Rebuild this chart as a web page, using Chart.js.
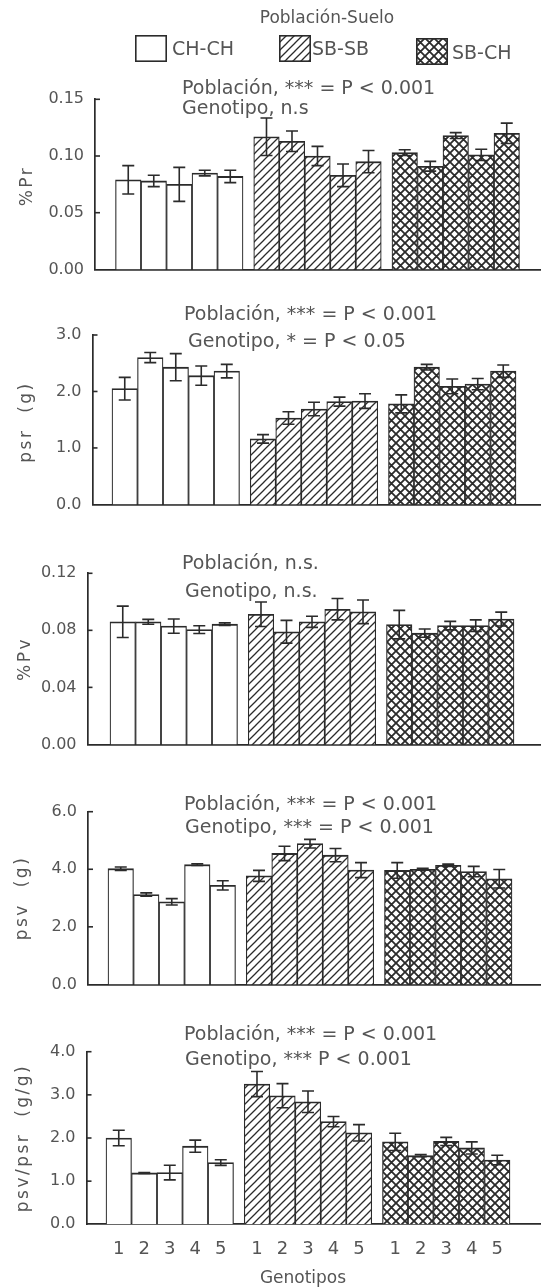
<!DOCTYPE html>
<html>
<head>
<meta charset="utf-8">
<script src="https://cdn.jsdelivr.net/npm/chart.js@4.4.1/dist/chart.umd.min.js"></script>
<style>
  html, body { margin: 0; padding: 0; background: #fff; }
  body { width: 541px; height: 1287px; position: relative; overflow: hidden; font-family: "DejaVu Sans", sans-serif; color: #555; }
  canvas.panel { position: absolute; left: 0; }
  .txt { position: absolute; white-space: pre; line-height: 22px; height: 22px; }
  .ytitle { position: absolute; white-space: pre; line-height: 22px; height: 22px; width: 300px; text-align: center; letter-spacing: 2.5px; transform: rotate(-90deg); transform-origin: 150px 11px; }
  .swatch { position: absolute; }
</style>
</head>
<body>
<canvas class="panel" id="c1" width="541" height="290" style="top:0px"></canvas>
<canvas class="panel" id="c2" width="541" height="235" style="top:290px"></canvas>
<canvas class="panel" id="c3" width="541" height="240" style="top:525px"></canvas>
<canvas class="panel" id="c4" width="541" height="240" style="top:765px"></canvas>
<canvas class="panel" id="c5" width="541" height="282" style="top:1005px"></canvas>
<div id="overlay"></div>
<script>
// ---------------- DATA ----------------
const genotipos = ['1', '2', '3', '4', '5'];
const poblaciones = ['CH-CH', 'SB-SB', 'SB-CH'];

// %Pr  (CH-CH 1..5, SB-SB 1..5, SB-CH 1..5)
const pctPrMeans = [0.079, 0.078, 0.075, 0.085, 0.082, 0.117, 0.113, 0.100, 0.083, 0.095, 0.103, 0.091, 0.118, 0.101, 0.120];
const pctPrErr   = [0.0125, 0.005, 0.015, 0.0025, 0.0055, 0.0165, 0.009, 0.0085, 0.010, 0.0098, 0.0025, 0.0043, 0.0026, 0.005, 0.009];
const pctPrTicks = [0, 0.05, 0.10, 0.15];

// psr (g)
const psrMeans = [2.05, 2.60, 2.43, 2.28, 2.36, 1.16, 1.53, 1.69, 1.82, 1.83, 1.78, 2.43, 2.09, 2.13, 2.36];
const psrErr   = [0.20, 0.09, 0.24, 0.17, 0.12, 0.075, 0.11, 0.12, 0.08, 0.13, 0.16, 0.05, 0.13, 0.10, 0.11];
const psrTicks = [0, 1, 2, 3];

// %Pv
const pctPvMeans = [0.086, 0.086, 0.083, 0.0805, 0.0843, 0.0913, 0.079, 0.086, 0.0948, 0.093, 0.084, 0.078, 0.0833, 0.0833, 0.0879];
const pctPvErr   = [0.011, 0.0017, 0.005, 0.0027, 0.0009, 0.0086, 0.008, 0.0039, 0.0075, 0.0083, 0.010, 0.0029, 0.003, 0.004, 0.0049];
const pctPvTicks = [0, 0.04, 0.08, 0.12];

// psv (g)
const psvMeans = [4.02, 3.12, 2.87, 4.16, 3.44, 3.77, 4.55, 4.89, 4.49, 3.97, 3.96, 4.00, 4.14, 3.92, 3.67];
const psvErr   = [0.06, 0.06, 0.11, 0.03, 0.16, 0.19, 0.25, 0.15, 0.23, 0.26, 0.27, 0.03, 0.04, 0.18, 0.32];
const psvTicks = [0, 2, 4, 6];

// psv/psr (g/g)
const ratioMeans = [2.00, 1.19, 1.20, 1.81, 1.43, 3.25, 2.98, 2.84, 2.38, 2.12, 1.91, 1.59, 1.92, 1.77, 1.49];
const ratioErr   = [0.18, 0.01, 0.17, 0.14, 0.065, 0.29, 0.28, 0.25, 0.12, 0.19, 0.20, 0.025, 0.095, 0.14, 0.11];
const ratioTicks = [0, 1, 2, 3, 4];

// texts
const yTitles = ['%Pr', 'psr  (g)', '%Pv', 'psv  (g)', 'psv/psr  (g/g)'];
const xTitle = 'Genotipos';
const legendTitle = 'Población-Suelo';
const annotations = [
  ['Población, *** = P < 0.001', 'Genotipo, n.s'],
  ['Población, *** = P < 0.001', 'Genotipo, * = P < 0.05'],
  ['Población, n.s.', 'Genotipo, n.s.'],
  ['Población, *** = P < 0.001', 'Genotipo, *** = P < 0.001'],
  ['Población, *** = P < 0.001', 'Genotipo, *** P < 0.001']
];

// ---------------- STYLE / LAYOUT ----------------
const INK = '#2b2b2b';
const TEXT = '#555';
const FONT = '"DejaVu Sans", sans-serif';
const W = 541;
const GROUP_GAP = 0.42;
const PX_PER_UNIT = 404 / (15 + 2 * GROUP_GAP);

function makePattern(kind) {
  const s = kind === 'diag' ? 8 : 9;
  const c = document.createElement('canvas');
  c.width = s; c.height = s;
  const g = c.getContext('2d');
  g.fillStyle = '#fff'; g.fillRect(0, 0, s, s);
  g.strokeStyle = INK;
  g.lineWidth = kind === 'diag' ? 1.3 : 1.8;
  g.beginPath();
  g.moveTo(-1, s + 1); g.lineTo(s + 1, -1);
  g.moveTo(-s / 2 - 1, s / 2 + 1); g.lineTo(s / 2 + 1, -s / 2 - 1);
  g.moveTo(s / 2 - 1, 1.5 * s + 1); g.lineTo(1.5 * s + 1, s / 2 - 1);
  if (kind === 'cross') {
    g.moveTo(-1, -1); g.lineTo(s + 1, s + 1);
    g.moveTo(s / 2 - 1, -s / 2 - 1); g.lineTo(1.5 * s + 1, s / 2 + 1);
    g.moveTo(-s / 2 - 1, s / 2 - 1); g.lineTo(s / 2 + 1, 1.5 * s + 1);
  }
  g.stroke();
  return g.createPattern(c, 'repeat');
}
const fills = ['#fff', makePattern('diag'), makePattern('cross')];

const xPositions = [];
const barFills = [];
poblaciones.forEach((p, g) => genotipos.forEach((gt, i) => {
  xPositions.push(g * (5 + GROUP_GAP) + i);
  barFills.push(fills[g]);
}));

const errorBars = {
  id: 'errorBars',
  afterDatasetsDraw(chart) {
    const ds = chart.data.datasets[0];
    const meta = chart.getDatasetMeta(0);
    const ys = chart.scales.y;
    const ctx = chart.ctx;
    ctx.save();
    ctx.strokeStyle = INK;
    ctx.lineWidth = 1.6;
    meta.data.forEach((bar, i) => {
      const v = ds.data[i].y, e = ds.errors[i];
      const y1 = ys.getPixelForValue(v + e), y2 = ys.getPixelForValue(v - e);
      const x = bar.x, hw = 6;
      ctx.beginPath();
      ctx.moveTo(x, y1); ctx.lineTo(x, y2);
      ctx.moveTo(x - hw, y1); ctx.lineTo(x + hw, y1);
      ctx.moveTo(x - hw, y2); ctx.lineTo(x + hw, y2);
      ctx.stroke();
    });
    ctx.restore();
  }
};

const innerTicks = {
  id: 'innerTicks',
  afterDraw(chart) {
    const ys = chart.scales.y;
    const ctx = chart.ctx;
    const left = chart.chartArea.left;
    ctx.save();
    ctx.strokeStyle = INK;
    ctx.lineWidth = 1.6;
    ys.ticks.forEach((t, i) => {
      if (i === 0) return;
      const y = ys.getPixelForTick(i);
      ctx.beginPath(); ctx.moveTo(left, y); ctx.lineTo(left + 5, y); ctx.stroke();
    });
    ctx.restore();
  }
};

const panels = [
  { id: 'c1', top: 0,    height: 290, axisX: 95,   barStart: 115.5, plotTop: 99.3,   plotBottom: 272.7,  means: pctPrMeans, errs: pctPrErr, ticks: pctPrTicks, dec: 2, titleX: 26 },
  { id: 'c2', top: 290,  height: 235, axisX: 92.5, barStart: 112,   plotTop: 335,    plotBottom: 508.3,  means: psrMeans,   errs: psrErr,   ticks: psrTicks,   dec: 1, titleX: 25 },
  { id: 'c3', top: 525,  height: 240, axisX: 87.5, barStart: 110,   plotTop: 573.3,  plotBottom: 745,    means: pctPvMeans, errs: pctPvErr, ticks: pctPvTicks, dec: 2, titleX: 24 },
  { id: 'c4', top: 765,  height: 240, axisX: 88,   barStart: 108,   plotTop: 811.7,  plotBottom: 985,    means: psvMeans,   errs: psvErr,   ticks: psvTicks,   dec: 1, titleX: 21 },
  { id: 'c5', top: 1005, height: 282, axisX: 86.5, barStart: 106,   plotTop: 1051.7, plotBottom: 1224.3, means: ratioMeans, errs: ratioErr, ticks: ratioTicks, dec: 1, titleX: 21.5, showX: true }
];

panels.forEach((p) => {
  const xMin = -0.5 - (p.barStart - p.axisX) / PX_PER_UNIT;
  const xMax = xMin + (W - p.axisX) / PX_PER_UNIT;
  new Chart(document.getElementById(p.id), {
    type: 'bar',
    data: {
      datasets: [{
        data: p.means.map((v, i) => ({ x: xPositions[i], y: v })),
        errors: p.errs,
        backgroundColor: barFills,
        borderColor: INK,
        borderWidth: { top: 1.8, left: 1.2, right: 1.2, bottom: 0 },
        borderSkipped: false,
        barPercentage: 1,
        categoryPercentage: 1
      }]
    },
    options: {
      responsive: false,
      animation: false,
      events: [],
      layout: { padding: { top: p.plotTop - p.top, left: 0, right: 0, bottom: 0 } },
      plugins: { legend: { display: false }, tooltip: { enabled: false } },
      scales: {
        x: {
          type: 'linear',
          min: xMin, max: xMax,
          offset: false,
          grid: { display: false, drawTicks: false, offset: false },
          border: { display: true, color: INK, width: 1.7 },
          afterBuildTicks: (s) => { s.ticks = xPositions.map(v => ({ value: v })); },
          afterFit: (s) => { s.height = p.top + p.height - p.plotBottom; },
          ticks: {
            display: !!p.showX,
            autoSkip: false,
            maxRotation: 0,
            padding: 14,
            color: TEXT,
            font: { family: FONT, size: 18 },
            callback: (value, index) => genotipos[index % genotipos.length]
          }
        },
        y: {
          type: 'linear',
          min: 0, max: p.ticks[p.ticks.length - 1],
          grid: { display: false, drawTicks: false },
          border: { display: true, color: INK, width: 1.7 },
          afterBuildTicks: (s) => { s.ticks = p.ticks.map(v => ({ value: v })); },
          afterFit: (s) => { s.width = p.axisX; },
          ticks: {
            padding: 11,
            color: TEXT,
            font: { family: FONT, size: 16 },
            callback: (value) => Number(value).toFixed(p.dec)
          }
        }
      }
    },
    plugins: [errorBars, innerTicks]
  });
});

// ---------------- LEGEND, TITLES & ANNOTATIONS (HTML text) ----------------
const overlay = document.getElementById('overlay');
function addText(str, left, cy, size, center) {
  const d = document.createElement('div');
  d.className = 'txt';
  d.textContent = str;
  d.style.fontSize = size + 'px';
  d.style.top = (cy - 11) + 'px';
  if (center) { d.style.left = (left - 200) + 'px'; d.style.width = '400px'; d.style.textAlign = 'center'; }
  else d.style.left = left + 'px';
  overlay.appendChild(d);
}
function addYTitle(str, cx, cy, size) {
  const d = document.createElement('div');
  d.className = 'ytitle';
  d.textContent = str;
  d.style.fontSize = size + 'px';
  d.style.left = (cx - 150) + 'px';
  d.style.top = (cy - 11) + 'px';
  overlay.appendChild(d);
}
function addSwatch(fill, left, top, w, h) {
  const c = document.createElement('canvas');
  c.className = 'swatch';
  c.width = w; c.height = h;
  c.style.left = left + 'px'; c.style.top = top + 'px';
  const g = c.getContext('2d');
  g.fillStyle = fill; g.fillRect(0, 0, w, h);
  g.strokeStyle = INK; g.lineWidth = 1.6; g.strokeRect(0.8, 0.8, w - 1.6, h - 1.6);
  overlay.appendChild(c);
}
addText(legendTitle, 327, 17, 17, true);
const legendBoxes = [[135, 35], [279, 35], [416, 38]];
const legendTexts = [[172, 48], [312, 48], [452, 52]];
poblaciones.forEach((name, g) => {
  addSwatch(fills[g], legendBoxes[g][0], legendBoxes[g][1], 32, 27);
  addText(name, legendTexts[g][0], legendTexts[g][1], 19, false);
});
const annotPos = [
  [[182, 87], [182, 107]],
  [[184, 313], [188, 340]],
  [[182, 562], [185, 590]],
  [[184, 803], [185, 826]],
  [[184, 1033], [185, 1058]]
];
annotations.forEach((lines, k) => {
  lines.forEach((t, j) => addText(t, annotPos[k][j][0], annotPos[k][j][1], 19, false));
});
panels.forEach((p, k) => addYTitle(yTitles[k], p.titleX, (p.plotTop + p.plotBottom) / 2, 17));
addText(xTitle, 303, 1277, 17, true);
</script>
</body>
</html>
